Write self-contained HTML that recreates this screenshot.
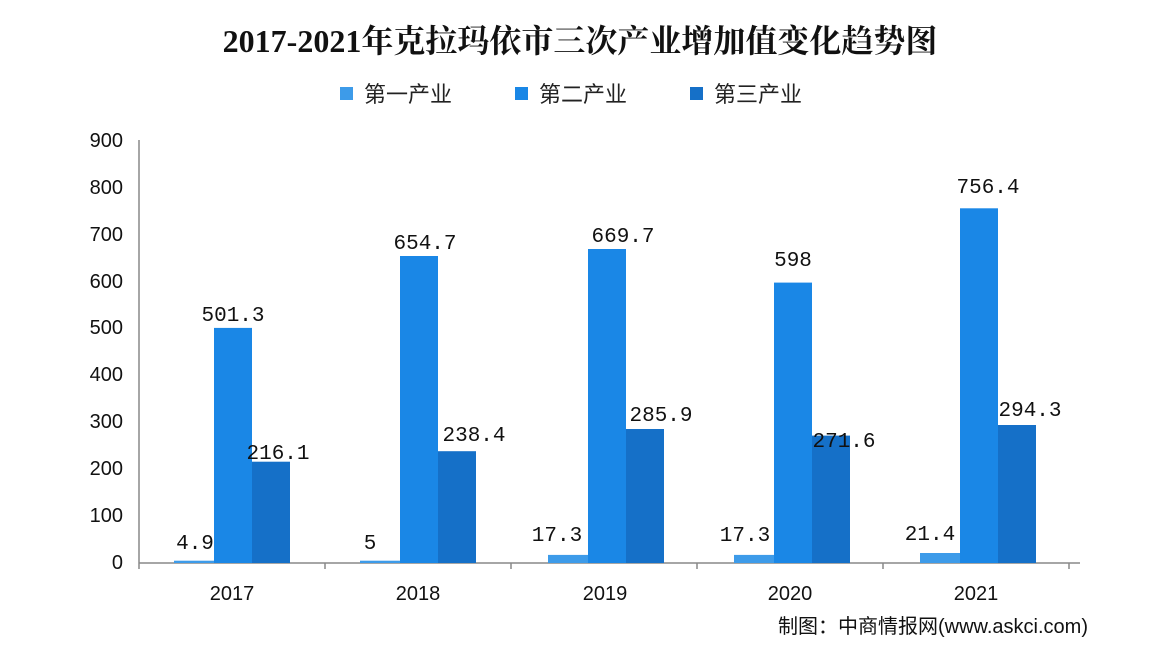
<!DOCTYPE html>
<html><head><meta charset="utf-8"><style>
body{margin:0;background:#fff;}
.s{font-family:"Liberation Sans","Noto Sans CJK SC",sans-serif;}
.m{font-family:"Liberation Mono","Noto Sans CJK SC",monospace;}
.t{font-family:"Liberation Serif","Noto Serif CJK SC",serif;}
</style></head><body>
<svg width="1152" height="654" viewBox="0 0 1152 654" xmlns="http://www.w3.org/2000/svg">
<rect width="1152" height="654" fill="#fff"/>
<text class="t" x="580" y="52" text-anchor="middle" font-size="32" font-weight="bold" fill="#111">2017-2021年克拉玛依市三次产业增加值变化趋势图</text>
<g font-size="22" fill="#222">
<rect x="340" y="87" width="13" height="13" fill="#3d9be9"/><text class="s" x="364" y="102">第一产业</text>
<rect x="515" y="87" width="13" height="13" fill="#1a87e6"/><text class="s" x="539" y="102">第二产业</text>
<rect x="690" y="87" width="13" height="13" fill="#1570c8"/><text class="s" x="714" y="102">第三产业</text>
</g>
<g font-size="20" fill="#111" text-anchor="end">
<text class="s" x="123" y="569">0</text><text class="s" x="123" y="522">100</text><text class="s" x="123" y="475">200</text><text class="s" x="123" y="428">300</text><text class="s" x="123" y="381">400</text><text class="s" x="123" y="334">500</text><text class="s" x="123" y="288">600</text><text class="s" x="123" y="241">700</text><text class="s" x="123" y="194">800</text><text class="s" x="123" y="147">900</text>
</g>
<line x1="139" y1="140" x2="139" y2="563" stroke="#888" stroke-width="1.5"/>
<line x1="139" y1="563" x2="1080" y2="563" stroke="#888" stroke-width="1.5"/>
<g stroke="#888" stroke-width="1.5">
<line x1="139" y1="563" x2="139" y2="569"/><line x1="325" y1="563" x2="325" y2="569"/><line x1="511" y1="563" x2="511" y2="569"/><line x1="697" y1="563" x2="697" y2="569"/><line x1="883" y1="563" x2="883" y2="569"/><line x1="1069" y1="563" x2="1069" y2="569"/>
</g>
<g>
<rect x="174" y="560.7" width="40" height="2.3" fill="#3d9be9"/>
<rect x="214" y="327.9" width="38" height="235.1" fill="#1a87e6"/>
<rect x="252" y="461.7" width="38" height="101.3" fill="#1570c8"/>
<rect x="360" y="560.7" width="40" height="2.3" fill="#3d9be9"/>
<rect x="400" y="256" width="38" height="307" fill="#1a87e6"/>
<rect x="438" y="451.2" width="38" height="111.8" fill="#1570c8"/>
<rect x="548" y="554.9" width="40" height="8.1" fill="#3d9be9"/>
<rect x="588" y="249" width="38" height="314" fill="#1a87e6"/>
<rect x="626" y="429" width="38" height="134" fill="#1570c8"/>
<rect x="734" y="554.9" width="40" height="8.1" fill="#3d9be9"/>
<rect x="774" y="282.6" width="38" height="280.4" fill="#1a87e6"/>
<rect x="812" y="435.6" width="38" height="127.4" fill="#1570c8"/>
<rect x="920" y="553" width="40" height="10" fill="#3d9be9"/>
<rect x="960" y="208.3" width="38" height="354.7" fill="#1a87e6"/>
<rect x="998" y="425" width="38" height="138" fill="#1570c8"/>
</g>
<g font-size="21" fill="#111" text-anchor="middle">
<text class="m" x="195" y="549">4.9</text><text class="m" x="233" y="321">501.3</text><text class="m" x="278" y="459">216.1</text>
<text class="m" x="370" y="549">5</text><text class="m" x="425" y="249">654.7</text><text class="m" x="474" y="441">238.4</text>
<text class="m" x="557" y="541">17.3</text><text class="m" x="623" y="242">669.7</text><text class="m" x="661" y="421">285.9</text>
<text class="m" x="745" y="541">17.3</text><text class="m" x="793" y="266">598</text><text class="m" x="844" y="447">271.6</text>
<text class="m" x="930" y="540">21.4</text><text class="m" x="988" y="193">756.4</text><text class="m" x="1030" y="416">294.3</text>
</g>
<g font-size="20" fill="#111" text-anchor="middle">
<text class="s" x="232" y="600">2017</text><text class="s" x="418" y="600">2018</text><text class="s" x="605" y="600">2019</text><text class="s" x="790" y="600">2020</text><text class="s" x="976" y="600">2021</text>
</g>
<text class="s" x="1088" y="633" text-anchor="end" font-size="20" fill="#111">制图：中商情报网(www.askci.com)</text>
</svg>
</body></html>
